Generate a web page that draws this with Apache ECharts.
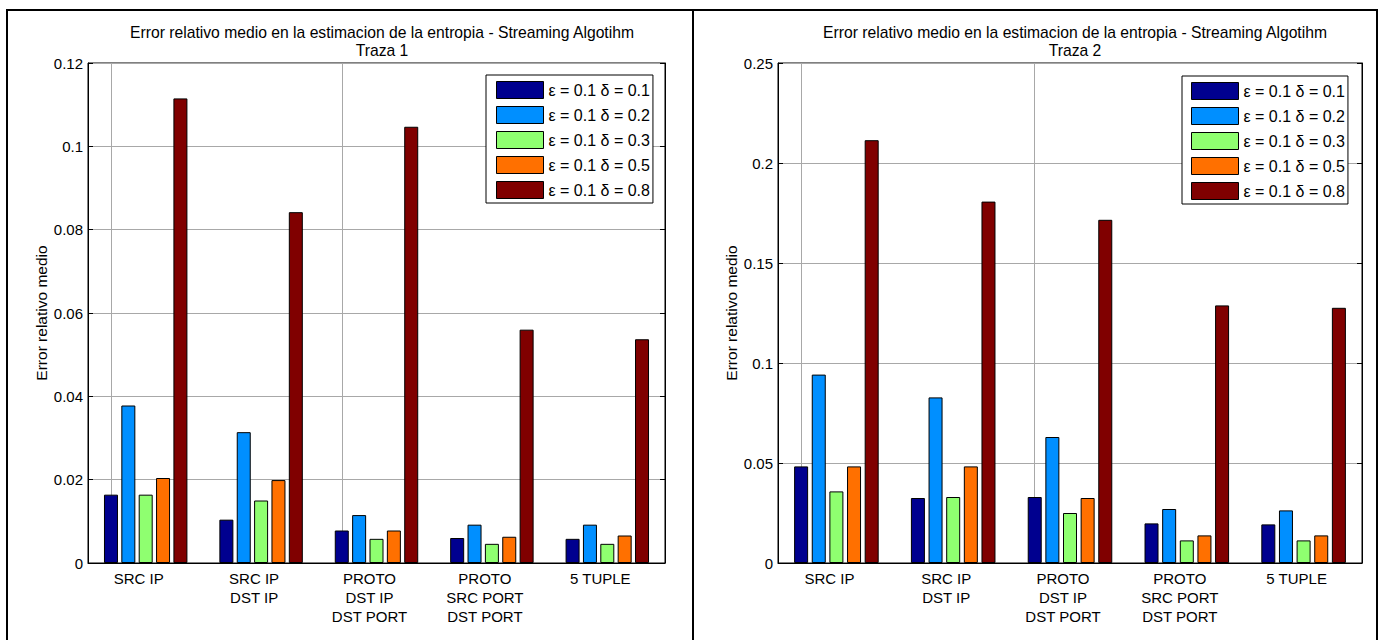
<!DOCTYPE html>
<html>
<head>
<meta charset="utf-8">
<script src="https://cdn.jsdelivr.net/npm/echarts@6/dist/echarts.min.js"></script>
<style>
  html, body { margin: 0; padding: 0; background: #fff; }
  #chart { width: 1379px; height: 640px; }
</style>
</head>
<body>
<div id="chart"></div>
<script>
// Feature combinations on the x axis
const categories = ['SRC IP', 'SRC IP\nDST IP', 'PROTO\nDST IP\nDST PORT', 'PROTO\nSRC PORT\nDST PORT', '5 TUPLE'];
const epsilon = 0.1;
const deltas = [0.1, 0.2, 0.3, 0.5, 0.8];

// Traza 1: mean relative error per delta
const traza1_d01 = [0.0164, 0.0104, 0.0078, 0.0060, 0.0058];
const traza1_d02 = [0.0378, 0.0314, 0.0115, 0.0092, 0.0092];
const traza1_d03 = [0.0164, 0.0150, 0.0058, 0.0046, 0.0046];
const traza1_d05 = [0.0204, 0.0199, 0.0078, 0.0063, 0.0066];
const traza1_d08 = [0.1115, 0.0842, 0.1047, 0.0560, 0.0537];

// Traza 2: mean relative error per delta
const traza2_d01 = [0.0483, 0.0325, 0.0330, 0.0198, 0.0193];
const traza2_d02 = [0.0942, 0.0828, 0.0630, 0.0270, 0.0263];
const traza2_d03 = [0.0358, 0.0330, 0.0250, 0.0113, 0.0113];
const traza2_d05 = [0.0483, 0.0483, 0.0325, 0.0138, 0.0138];
const traza2_d08 = [0.2114, 0.1807, 0.1716, 0.1288, 0.1276];

// Y axis ranges
const yMax1 = 0.12, yStep1 = 0.02;
const yMax2 = 0.25, yStep2 = 0.05;

// Categories that carry a vertical grid line
const vGridCats = [categories[0], categories[2]];

const colors = ['#00008F', '#008FFF', '#8FFF70', '#FF7000', '#800000'];
const seriesNames = deltas.map(d => 'ε = ' + epsilon + ' δ = ' + d);
const traza1 = [traza1_d01, traza1_d02, traza1_d03, traza1_d05, traza1_d08];
const traza2 = [traza2_d01, traza2_d02, traza2_d03, traza2_d05, traza2_d08];

const FONT = "'Liberation Sans', Arial, sans-serif";
const GRID_GRAY = '#a8a8a8';

const chart = echarts.init(document.getElementById('chart'), null, { renderer: 'svg' });

const grids = [
  { left: 88, top: 63, width: 577, height: 500 },
  { left: 778, top: 63, width: 584, height: 500 }
];

function xAxisFor(i) {
  return {
    type: 'category', gridIndex: i, data: categories,
    axisLine: { lineStyle: { color: '#000', width: 1 } },
    axisTick: { show: false },
    axisLabel: {
      interval: 0, color: '#000', fontFamily: FONT, fontSize: 15,
      lineHeight: 19, margin: 6, padding: [0, 14, 0, 0]
    },
    splitLine: { show: false }
  };
}

function yAxesFor(i, max, step) {
  const common = {
    type: 'value', gridIndex: i, min: 0, max: max, interval: step,
    axisLine: { show: true, lineStyle: { color: '#000', width: 1 } },
    axisTick: { show: true, inside: true, length: 5, lineStyle: { color: '#000' } }
  };
  return [
    Object.assign({}, common, {
      position: 'left',
      name: 'Error relativo medio', nameLocation: 'middle', nameGap: 36,
      nameTextStyle: { color: '#000', fontFamily: FONT, fontSize: 15.5 },
      axisLabel: { color: '#000', fontFamily: FONT, fontSize: 15, margin: 5 },
      splitLine: { show: true, lineStyle: { color: GRID_GRAY, width: 1 } }
    }),
    Object.assign({}, common, {
      position: 'right',
      axisLabel: { show: false },
      splitLine: { show: false }
    })
  ];
}

function seriesFor(i, data, gap) {
  return data.map((vals, k) => {
    const s = {
      type: 'bar', name: seriesNames[k], data: vals,
      xAxisIndex: i, yAxisIndex: i * 2,
      barWidth: 14, barGap: gap,
      itemStyle: { color: colors[k], borderColor: '#000', borderWidth: 1 },
      emphasis: { disabled: true },
      animation: false
    };
    if (k === 0) {
      s.markLine = {
        z: 1, silent: true, symbol: 'none', animation: false,
        label: { show: false },
        lineStyle: { color: GRID_GRAY, type: 'solid', width: 1 },
        data: vGridCats.map(c => ({ xAxis: c }))
      };
    }
    return s;
  });
}

function legendFor(left, top, pad) {
  return {
    orient: 'vertical', left: left, top: top, padding: pad,
    itemWidth: 47, itemHeight: 17, itemGap: 7,
    backgroundColor: '#fff', borderColor: '#000', borderWidth: 1,
    icon: 'rect', selectedMode: false,
    itemStyle: { borderColor: '#000', borderWidth: 1 },
    textStyle: { color: '#000', fontFamily: FONT, fontSize: 16, padding: [3, 0, 0, 0] },
    data: seriesNames
  };
}

const titleText = 'Error relativo medio en la estimacion de la entropia - Streaming Algotihm';
const titleStyle = { fontFamily: FONT, fontSize: 15.7, fontWeight: 'normal', color: '#000', lineHeight: 18 };

chart.setOption({
  backgroundColor: '#fff',
  animation: false,
  title: [
    { text: titleText + '\nTraza 1', left: 377, top: 18, textAlign: 'center', textStyle: titleStyle },
    { text: titleText + '\nTraza 2', left: 1070, top: 18, textAlign: 'center', textStyle: titleStyle }
  ],
  grid: grids.map(g => Object.assign({ show: true, borderColor: '#000', borderWidth: 1, backgroundColor: '#fff' }, g)),
  xAxis: [xAxisFor(0), xAxisFor(1)],
  yAxis: yAxesFor(0, yMax1, yStep1).concat(yAxesFor(1, yMax2, yStep2)),
  legend: [legendFor(486, 75, [6, 3, 4, 10]), legendFor(1182, 76, [6, 3, 4, 9])],
  series: seriesFor(0, traza1, '24%').concat(seriesFor(1, traza2, '26%')),
  graphic: [
    { type: 'rect', silent: true, z: 100,
      shape: { x: 7, y: 10, width: 1370, height: 650 },
      style: { fill: 'none', stroke: '#000', lineWidth: 2 } },
    { type: 'line', silent: true, z: 100,
      shape: { x1: 693, y1: 10, x2: 693, y2: 660 },
      style: { stroke: '#000', lineWidth: 2 } }
  ]
});
</script>
</body>
</html>
